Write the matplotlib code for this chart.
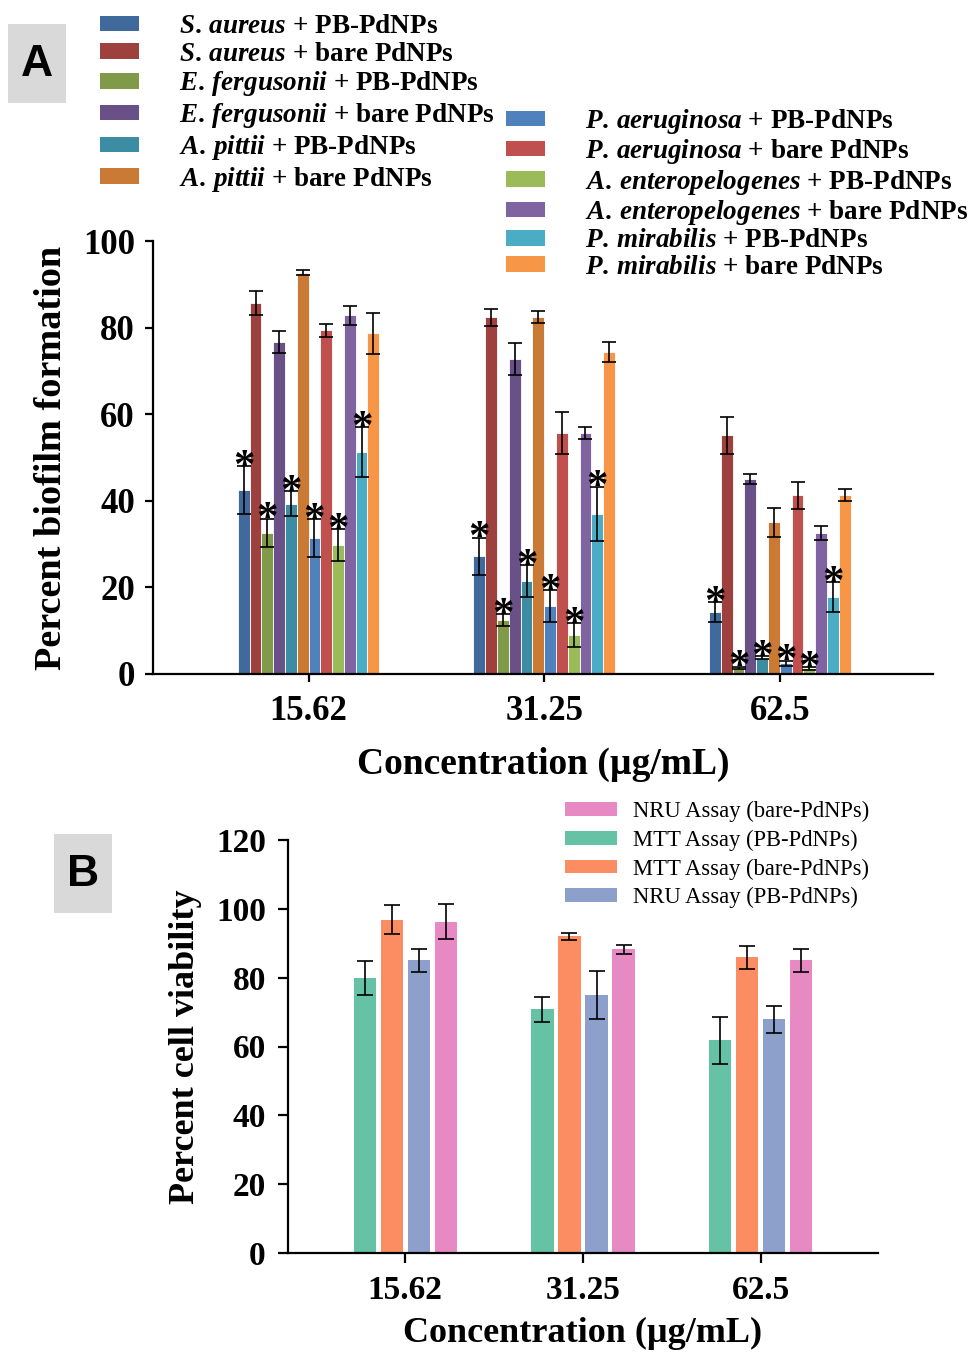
import numpy as np
import matplotlib
matplotlib.use("Agg")
import matplotlib.pyplot as plt
from matplotlib.patches import Patch, Rectangle

plt.rcParams['font.family'] = ['Liberation Serif', 'DejaVu Serif']
plt.rcParams['mathtext.fontset'] = 'custom'
plt.rcParams['mathtext.it'] = 'Liberation Serif:italic:bold'
plt.rcParams['mathtext.rm'] = 'Liberation Serif:bold'

# ---- panel A data ----
concentrations = ["15.62", "31.25", "62.5"]
species = ["S.\\,aureus", "S.\\,aureus", "E.\\,fergusonii", "E.\\,fergusonii",
           "A.\\,pittii", "A.\\,pittii", "P.\\,aeruginosa", "P.\\,aeruginosa",
           "A.\\,enteropelogenes", "A.\\,enteropelogenes", "P.\\,mirabilis", "P.\\,mirabilis"]
treatments = ["PB-PdNPs", "bare PdNPs"] * 6
colors_a = ["#406a9c", "#9e403e", "#7f9a48", "#695086", "#3c8da4", "#cb7a36",
            "#4f81bd", "#c0504d", "#9bbb59", "#8064a2", "#4bacc6", "#f79646"]

# rows = series, cols = concentrations
biofilm = [
    [42.5, 27.2, 14.3],
    [85.7, 82.4, 55.1],
    [32.6, 12.5, 1.4],
    [76.7, 72.7, 45.0],
    [39.3, 21.5, 3.8],
    [92.7, 82.4, 35.0],
    [31.4, 15.7, 2.5],
    [79.4, 55.7, 41.3],
    [29.8, 9.0, 1.3],
    [82.9, 55.7, 32.5],
    [51.3, 37.0, 17.8],
    [78.7, 74.4, 41.3],
]
biofilm_err = [
    [5.6, 4.3, 2.3],
    [2.8, 2.0, 4.3],
    [3.3, 1.3, 0.3],
    [2.5, 3.7, 1.2],
    [2.9, 3.7, 0.4],
    [0.6, 1.4, 3.3],
    [4.3, 3.7, 0.6],
    [1.5, 4.9, 3.1],
    [3.7, 2.7, 0.3],
    [2.2, 1.4, 1.6],
    [5.7, 6.3, 3.4],
    [4.7, 2.3, 1.4],
]
significant = [True, False] * 6

# ---- panel B data ----
assays = ["MTT Assay (PB-PdNPs)", "MTT Assay (bare-PdNPs)",
          "NRU Assay (PB-PdNPs)", "NRU Assay (bare-PdNPs)"]
colors_b = ["#66c2a5", "#fc8d62", "#8da0cb", "#e78ac3"]
viability = [
    [79.8, 70.8, 61.8],
    [96.9, 92.0, 85.9],
    [85.0, 74.9, 67.9],
    [96.3, 88.2, 85.0],
]
viability_err = [
    [4.9, 3.7, 6.9],
    [4.2, 1.1, 3.3],
    [3.4, 7.0, 4.0],
    [5.2, 1.3, 3.4],
]
legend_order_b = [3, 0, 1, 2]

fig = plt.figure(figsize=(9.7, 13.55), dpi=100)

# ================= panel A =================
axA = fig.add_axes([153/970, 1 - 674/1355, (933 - 153)/970, (674 - 241)/1355])
x = np.arange(len(concentrations))
n = len(biofilm)
pitch = 0.05
for i in range(n):
    pos = x + (i - (n - 1) / 2) * pitch
    axA.bar(pos, biofilm[i], width=pitch, color=colors_a[i], edgecolor='white', linewidth=0.6)
    axA.errorbar(pos, biofilm[i], yerr=biofilm_err[i], fmt='none', ecolor='black',
                 elinewidth=1.2, capsize=5, capthick=1.2)
    if significant[i]:
        for p, v, e in zip(pos, biofilm[i], biofilm_err[i]):
            axA.annotate('*', (p, v + e), xytext=(0, -8.5), textcoords='offset points',
                         ha='center', va='baseline', fontsize=31, fontweight='bold')

axA.set_xlim(-0.66, 2.65)
axA.set_ylim(0, 100)
axA.set_yticks([0, 20, 40, 60, 80, 100])
axA.set_xticks(x)
axA.set_xticklabels(concentrations)
for s in ['top', 'right']:
    axA.spines[s].set_visible(False)
for s in ['left', 'bottom']:
    axA.spines[s].set_linewidth(1.6)
axA.tick_params(axis='both', width=1.6, length=6, labelsize=25)
axA.tick_params(axis='x', pad=9)
axA.tick_params(axis='y', pad=7)
for lab in axA.get_xticklabels() + axA.get_yticklabels():
    lab.set_fontweight('bold')
axA.set_ylabel("Percent biofilm formation", fontsize=27.5, fontweight='bold', labelpad=10)
axA.set_xlabel("Concentration (µg/mL)", fontsize=27, fontweight='bold', labelpad=14)

handles = [Patch(facecolor=c) for c in colors_a]
labels = [r"$\mathit{%s}$ + %s" % (s, t) for s, t in zip(species, treatments)]
leg_kw = dict(frameon=False, loc='upper left', borderpad=0, borderaxespad=0,
              handlelength=1.45, handleheight=0.5, handletextpad=1.45,
              prop={'weight': 'bold', 'size': 19.5})
fig.legend(handles[:6], labels[:6], bbox_to_anchor=(100/970, 1 - 14/1355),
           labelspacing=0.1, **leg_kw)
fig.legend(handles[6:], labels[6:], bbox_to_anchor=(506/970, 1 - 107/1355),
           labelspacing=0.05, **leg_kw)

# ================= panel B =================
axB = fig.add_axes([288/970, 1 - 1253/1355, (878 - 288)/970, (1253 - 840)/1355])
pitch_b = 0.152
m = len(viability)
bars_b = []
for i in range(m):
    pos = x + (i - (m - 1) / 2) * pitch_b
    b = axB.bar(pos, viability[i], width=0.125, color=colors_b[i])
    bars_b.append(b)
    axB.errorbar(pos, viability[i], yerr=viability_err[i], fmt='none', ecolor='black',
                 elinewidth=1.2, capsize=6, capthick=1.2)

axB.set_xlim(-0.66, 2.66)
axB.set_ylim(0, 120)
axB.set_yticks(np.arange(0, 121, 20))
axB.set_xticks(x)
axB.set_xticklabels(concentrations)
for s in ['top', 'right']:
    axB.spines[s].set_visible(False)
for s in ['left', 'bottom']:
    axB.spines[s].set_linewidth(1.6)
axB.tick_params(axis='both', width=1.6, length=7, labelsize=24)
axB.tick_params(axis='x', pad=9)
axB.tick_params(axis='y', pad=9)
for lab in axB.get_xticklabels() + axB.get_yticklabels():
    lab.set_fontweight('bold')
axB.set_ylabel("Percent cell viability", fontsize=26, fontweight='bold', labelpad=10)
axB.set_xlabel("Concentration (µg/mL)", fontsize=26, fontweight='bold', labelpad=8)

fig.legend([bars_b[k] for k in legend_order_b], [assays[k] for k in legend_order_b],
           frameon=False, loc='upper left', bbox_to_anchor=(565/970, 1 - 801/1355),
           borderpad=0, borderaxespad=0, handlelength=2.3, handleheight=0.55,
           handletextpad=0.7, labelspacing=0.33, prop={'size': 16.3})

# ---- panel letters ----
for (x0, y0, letter) in [(8, 24, "A"), (54, 834, "B")]:
    fig.patches.append(Rectangle((x0/970, 1 - (y0 + 79)/1355), 58/970, 79/1355,
                                 transform=fig.transFigure, facecolor='#d9d9d9',
                                 edgecolor='none'))
    fig.text((x0 + 29)/970, 1 - (y0 + 40)/1355, letter, ha='center', va='center',
             fontsize=32, fontweight='bold', family='Liberation Sans')

fig.savefig("out.png", dpi=100)
